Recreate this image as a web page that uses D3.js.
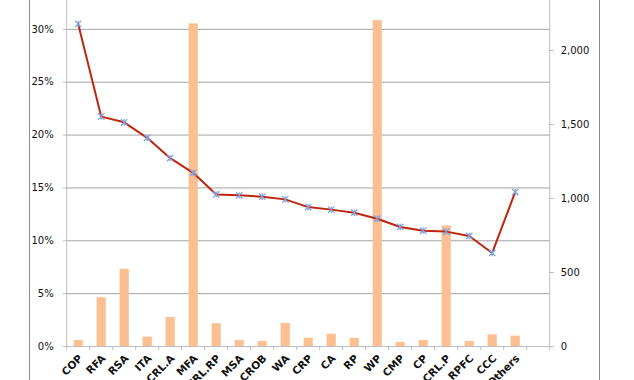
<!DOCTYPE html>
<html><head><meta charset="utf-8">
<script src="https://cdn.jsdelivr.net/npm/d3@7"></script>
<style>
html,body{margin:0;padding:0;background:#fff;}
svg{display:block;}
text{font-family:"DejaVu Sans",sans-serif;font-size:10px;fill:#111;}
</style></head>
<body><svg id="c" width="634" height="380"></svg>
<script>
const categories = ["COP","RFA","RSA","ITA","CRL.A","MFA","CRL.RP","MSA","CROB","WA","CRP","CA","RP","WP","CMP","CP","CRL.P","RPFC","CCC","Others"];
const barValues = [40,330,522,63,196,2180,154,41,34,156,56,83,56,2202,27,41,815,34,79,70];
const lineValues = [0.3047,0.217,0.2116,0.1969,0.1777,0.1638,0.1434,0.1425,0.1412,0.1387,0.1314,0.129,0.1261,0.1204,0.1126,0.1091,0.1082,0.1041,0.088,0.1456];
const leftTicks = [0,0.05,0.10,0.15,0.20,0.25,0.30];
const rightTicks = [0,500,1000,1500,2000];

const svg = d3.select("#c");
const L = 66.7, R = 549.7, T = -24, B = 346;

const x = d3.scaleBand().domain([...categories, ""]).range([L, R]).paddingInner(0.6).paddingOuter(0.3);
const yL = d3.scaleLinear().domain([0, 0.35]).range([B, T]);
const yR = d3.scaleLinear().domain([0, 2500]).range([B, T]);

// frame
svg.append("line").attr("x1",29.5).attr("x2",29.5).attr("y1",0).attr("y2",380).attr("stroke","#8a8a8a").attr("stroke-width",1);
svg.append("line").attr("x1",599.5).attr("x2",599.5).attr("y1",0).attr("y2",380).attr("stroke","#8a8a8a").attr("stroke-width",1);

// gridlines
svg.append("g").attr("transform",`translate(${L},0)`)
  .call(d3.axisLeft(yL).tickValues(leftTicks.slice(1)).tickSize(-(R-L)).tickFormat(""))
  .call(g=>g.select(".domain").remove())
  .call(g=>g.selectAll("line").attr("stroke","#a3a3a3").attr("stroke-width",1));

// left axis
const gl = svg.append("g").attr("transform",`translate(${L},0)`)
  .call(d3.axisLeft(yL).tickValues(leftTicks).tickSize(4).tickPadding(9).tickFormat(d3.format(".0%")));
gl.select(".domain").attr("stroke","#bdbdbd").attr("d",`M0,${T}V${B}`);
gl.selectAll(".tick line").attr("stroke","#bdbdbd");
gl.selectAll("text").style("font-family","DejaVu Sans").style("font-size","10px").attr("fill","#111");

// right axis
const gr = svg.append("g").attr("transform",`translate(${R},0)`)
  .call(d3.axisRight(yR).tickValues(rightTicks).tickSize(4).tickPadding(7).tickFormat(d3.format(",")));
gr.select(".domain").attr("stroke","#bdbdbd").attr("d",`M0,${T}V${B}`);
gr.selectAll(".tick line").attr("stroke","#bdbdbd");
gr.selectAll("text").style("font-family","DejaVu Sans").style("font-size","10px").attr("fill","#111");

// bars
svg.append("g").selectAll("rect").data(categories).join("rect")
  .attr("x", d=>x(d)).attr("width", x.bandwidth())
  .attr("y", (d,i)=>yR(barValues[i])).attr("height",(d,i)=>B - yR(barValues[i]))
  .attr("fill","#fcbf92");

// bottom axis line and boundary ticks
svg.append("line").attr("x1",L).attr("x2",R).attr("y1",B+0.5).attr("y2",B+0.5).attr("stroke","#bdbdbd");
const step = x.step();
svg.append("g").selectAll("line").data(d3.range(x.domain().length+1)).join("line")
  .attr("x1",i=>x.range()[0]+i*step).attr("x2",i=>x.range()[0]+i*step)
  .attr("y1",B).attr("y2",B+4).attr("stroke","#bdbdbd");

// x labels
svg.append("g").selectAll("text").data(categories).join("text")
  .attr("transform", d=>`translate(${x(d)+x.bandwidth()/2+5},${B+13}) rotate(-45)`)
  .attr("text-anchor","end")
  .style("font-family","DejaVu Sans").style("font-size","10.5px").style("font-weight","bold").attr("fill","#111")
  .text(d=>d);

// line
const line = d3.line().x((d,i)=>x(categories[i])+x.bandwidth()/2).y(d=>yL(d));
svg.append("path").datum(lineValues).attr("d",line).attr("fill","none").attr("stroke","#c0260e").attr("stroke-width",2).attr("stroke-linejoin","round");

// markers
const s = 3.2;
svg.append("g").selectAll("path").data(lineValues).join("path")
  .attr("transform",(d,i)=>`translate(${x(categories[i])+x.bandwidth()/2},${yL(d)})`)
  .attr("d",`M${-s},${-s}L${s},${s}M${-s},${s}L${s},${-s}M0,${-s}L0,${s}`)
  .attr("stroke","#7f9fdf").attr("stroke-width",1.2).attr("fill","none");
</script></body></html>
